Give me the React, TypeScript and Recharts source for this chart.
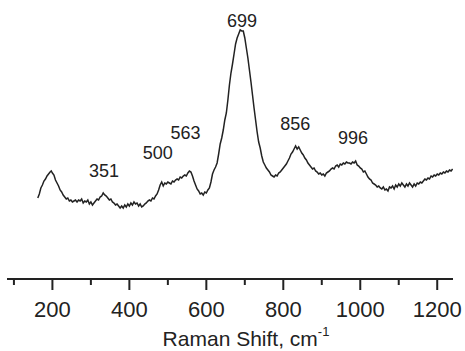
import React from 'react';
import { LineChart, Line, XAxis, YAxis, ReferenceDot } from 'recharts';

const ramanShift = [
  162,166,170,174,178,182,186,190,194,197,200,204,208,212,216,220,224,228,232,236,240,244,248,252,256,260,264,268,272,276,280,284,288,292,296,300,304,308,312,316,320,324,328,332,336,340,344,348,352,356,360,364,368,372,376,380,384,388,392,396,400,404,408,412,416,420,424,428,432,436,440,444,448,452,456,460,464,468,472,476,480,484,486,488,492,496,500,504,508,512,516,520,524,528,532,536,540,544,548,552,556,560,564,568,572,576,580,584,588,592,596,600,604,608,612,616,620,624,628,632,636,640,644,648,652,656,660,664,668,672,676,680,684,688,692,696,700,704,708,712,716,720,724,728,732,736,740,744,748,752,756,760,764,768,772,776,780,784,788,792,796,800,804,808,812,816,820,824,828,832,836,840,844,848,852,856,860,864,868,872,876,880,884,888,892,896,900,904,908,912,916,920,924,928,932,936,940,944,948,952,956,960,964,968,972,976,980,984,988,992,996,1000,1004,1008,1012,1016,1020,1024,1028,1032,1036,1040,1044,1048,1052,1056,1060,1064,1068,1072,1076,1080,1084,1088,1092,1096,1100,1104,1108,1112,1116,1120,1124,1128,1132,1136,1140,1144,1148,1152,1156,1160,1164,1168,1172,1176,1180,1184,1188,1192,1196,1200,1204,1208,1212,1216,1220,1224,1228,1232,1236,1240,
];

const intensity = [
  82,86,92,95,99,101,104,106,108,109,107,105,100,97,94,90,88,85,83,81,82,79,80,78,79,80,78,80,79,81,77,79,78,80,76,78,75,77,79,81,80,83,84,87,85,84,82,80,81,78,77,75,76,74,72,74,72,75,73,76,74,77,75,78,76,77,74,76,73,74,76,77,79,80,79,82,81,84,86,90,95,98,96,94,97,96,98,97,96,99,98,100,101,100,103,102,104,105,104,107,109,108,104,99,95,91,89,86,87,85,88,87,90,92,98,106,110,113,117,126,136,142,150,160,167,180,195,207,216,226,236,242,246,250,249,249,242,232,222,210,198,185,172,160,148,138,132,124,118,115,112,110,108,105,104,103,105,104,107,108,110,112,114,116,119,122,126,128,131,134,131,133,130,127,125,122,120,117,115,113,111,112,109,108,106,107,105,106,104,107,108,109,111,112,111,114,115,113,116,115,117,116,118,117,117,116,118,117,119,115,114,112,111,108,109,106,103,101,100,97,96,95,93,94,92,91,93,90,91,89,93,92,94,91,95,93,96,94,97,95,93,96,94,97,95,93,96,94,97,96,98,97,99,101,100,102,101,104,103,105,104,106,105,107,106,108,107,109,108,110,109,111,
];

const xTicks = [100, 200, 300, 400, 500, 600, 700, 800, 900, 1000, 1100, 1200];

const peakLabels = ['351', '500', '563', '699', '856', '996'];
const peakLabelX = [334, 474, 546, 693, 831, 981];
const peakLabelY = [109, 127.5, 147.5, 259.5, 156, 142];

const data = ramanShift.map((x, i) => ({ x, y: intensity[i] }));

const FONT = 'Liberation Sans, Arial, sans-serif';
const INK = '#222';

const AxisTick = (props: any) => {
  const { x, y, payload } = props;
  const major = payload.value % 200 === 0;
  return (
    <g>
      <line x1={x} x2={x} y1={y} y2={y + (major ? 11 : 6)} stroke={INK} strokeWidth={2} />
      {major && (
        <text x={x} y={y + 38} textAnchor="middle" fontSize={22} fill={INK} fontFamily={FONT}>
          {payload.value}
        </text>
      )}
    </g>
  );
};

const AxisTitle = (props: any) => {
  const vb = props.viewBox || { x: 7, y: 279, width: 446, height: 60 };
  const cx = vb.x + vb.width / 2 + 16;
  return (
    <text x={cx} y={vb.y + 67} textAnchor="middle" fontSize={21} fill={INK} fontFamily={FONT}>
      <tspan>Raman Shift, cm</tspan>
      <tspan fontSize={13} dy={-10}>-1</tspan>
    </text>
  );
};

export default function App() {
  return (
    <div style={{ position: 'absolute', left: 0, top: 0, background: '#fff' }}>
      <LineChart
        width={465}
        height={351}
        data={data}
        margin={{ top: 11, right: 12, bottom: 12, left: 7 }}
      >
        <XAxis
          dataKey="x"
          type="number"
          domain={[82, 1241]}
          ticks={xTicks}
          interval={0}
          tickSize={0}
          tickMargin={0}
          tickLine={false}
          tick={<AxisTick />}
          axisLine={{ stroke: INK, strokeWidth: 2 }}
          height={60}
          allowDataOverflow
          label={<AxisTitle />}
        />
        <YAxis type="number" domain={[1, 269]} hide allowDataOverflow />
        <Line
          type="linear"
          dataKey="y"
          stroke="#222"
          strokeWidth={1.5}
          dot={false}
          isAnimationActive={false}
        />
        {peakLabels.map((t, i) => (
          <ReferenceDot
            key={t}
            x={peakLabelX[i]}
            y={peakLabelY[i]}
            r={0}
            fill="none"
            stroke="none"
            label={{ value: t, position: 'center', fontSize: 18, fill: INK, fontFamily: FONT }}
          />
        ))}
      </LineChart>
    </div>
  );
}
